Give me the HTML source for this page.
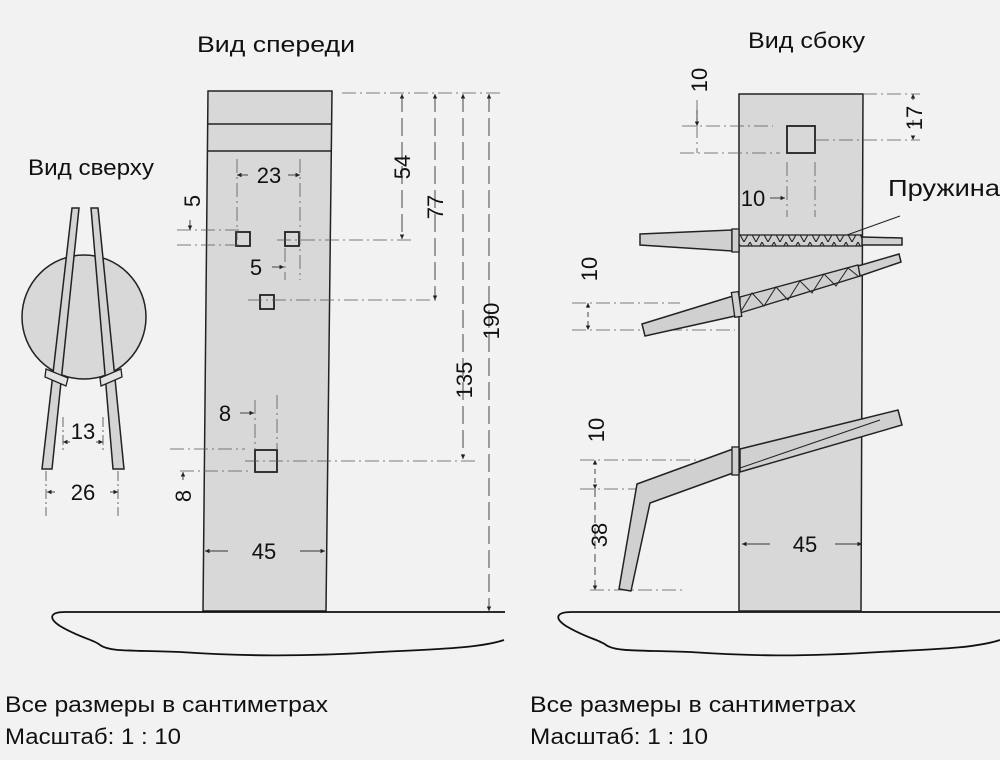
<!DOCTYPE html>
<html><head><meta charset="utf-8"><style>
html,body{margin:0;padding:0;background:#f2f2f2}
svg{display:block}
text{font-family:"Liberation Sans","DejaVu Sans",sans-serif;fill:#111}
</style></head><body>
<svg width="1000" height="760" viewBox="0 0 1000 760" xmlns="http://www.w3.org/2000/svg">
<defs>
<marker id="a" viewBox="0 0 6 6" refX="6" refY="3" markerWidth="5" markerHeight="5" orient="auto-start-reverse"><path d="M0,0 L6,3 L0,6z" fill="#222"/></marker>
<pattern id="sp" width="12" height="11" patternUnits="userSpaceOnUse"><path d="M0,11 L6,0 L12,11" fill="none" stroke="#222" stroke-width="1.1"/></pattern>
</defs>
<rect width="1000" height="760" fill="#f2f2f2"/>

<g font-size="22">
<text x="197" y="52" textLength="158" lengthAdjust="spacingAndGlyphs">Вид спереди</text>
<text x="748" y="48" textLength="117" lengthAdjust="spacingAndGlyphs">Вид сбоку</text>
<text x="28" y="175" textLength="126" lengthAdjust="spacingAndGlyphs">Вид сверху</text>
</g>

<!-- FRONT VIEW post -->
<polygon points="208,91 332,91 326,611 203,611" fill="#d8d8d8" stroke="#222" stroke-width="1.5"/>
<line x1="208" y1="124" x2="332" y2="124" stroke="#222" stroke-width="1.5"/>
<line x1="207" y1="151" x2="331" y2="151" stroke="#222" stroke-width="1.5"/>
<g fill="none" stroke="#222" stroke-width="1.8">
<rect x="236" y="232" width="14" height="14"/>
<rect x="285" y="232" width="14" height="14"/>
<rect x="260" y="295" width="14" height="14"/>
<rect x="255" y="450" width="22" height="22"/>
</g>
<g stroke="#555" stroke-width="0.8" fill="none" stroke-dasharray="14 4 2 4">
<line x1="342" y1="93" x2="500" y2="93"/>
<line x1="277" y1="240" x2="413" y2="240"/>
<line x1="248" y1="300" x2="437" y2="300"/>
<line x1="245" y1="461" x2="475" y2="461"/>
<line x1="237" y1="159" x2="237" y2="240"/>
<line x1="300" y1="159" x2="300" y2="280"/>
<line x1="285" y1="248" x2="285" y2="280"/>
<line x1="177" y1="230" x2="240" y2="230"/>
<line x1="177" y1="245" x2="240" y2="245"/>
<line x1="255" y1="400" x2="255" y2="450"/>
<line x1="277" y1="395" x2="277" y2="450"/>
<line x1="170" y1="449" x2="245" y2="449"/>
<line x1="180" y1="471" x2="248" y2="471"/>
</g>
<g stroke="#333" stroke-width="0.9" fill="none" stroke-dasharray="18 6">
<line x1="402" y1="94" x2="402" y2="239" marker-end="url(#a)" marker-start="url(#a)"/>
<line x1="435" y1="94" x2="435" y2="300" marker-end="url(#a)" marker-start="url(#a)"/>
<line x1="463" y1="94" x2="463" y2="459" marker-end="url(#a)" marker-start="url(#a)"/>
<line x1="489" y1="94" x2="489" y2="611" marker-end="url(#a)" marker-start="url(#a)"/>
</g>
<g stroke="#333" stroke-width="0.9" fill="none">
<line x1="248" y1="175" x2="237" y2="175" marker-end="url(#a)"/>
<line x1="288" y1="175" x2="300" y2="175" marker-end="url(#a)"/>
<line x1="272" y1="267" x2="284" y2="267" marker-end="url(#a)"/>
<line x1="240" y1="413" x2="254" y2="413" marker-end="url(#a)"/>
<line x1="190" y1="220" x2="190" y2="230" marker-end="url(#a)"/>
<line x1="183" y1="480" x2="183" y2="472" marker-end="url(#a)"/>
<line x1="228" y1="551" x2="205" y2="551" marker-end="url(#a)"/>
<line x1="300" y1="551" x2="325" y2="551" marker-end="url(#a)"/>
</g>
<g font-size="22">
<text x="269" y="183" text-anchor="middle">23</text>
<text x="256" y="275" text-anchor="middle">5</text>
<text x="225" y="421" text-anchor="middle">8</text>
<text x="264" y="559" text-anchor="middle">45</text>
<text transform="translate(200,201) rotate(-90)" text-anchor="middle">5</text>
<text transform="translate(191,496) rotate(-90)" text-anchor="middle">8</text>
<text transform="translate(410,167) rotate(-90)" text-anchor="middle">54</text>
<text transform="translate(443,207) rotate(-90)" text-anchor="middle">77</text>
<text transform="translate(472,380) rotate(-90)" text-anchor="middle">135</text>
<text transform="translate(499,321) rotate(-90)" text-anchor="middle">190</text>
</g>

<!-- TOP VIEW -->
<circle cx="84" cy="317" r="62" fill="#d8d8d8" stroke="#222" stroke-width="1.5"/>
<polygon points="72,208 79,208 52,469 42,469" fill="#d4d4d4" stroke="#222" stroke-width="1.5"/>
<polygon points="91,208 98,208 124,469 113,469" fill="#d4d4d4" stroke="#222" stroke-width="1.5"/>
<polygon points="46,369 68,378 66,386 45,377" fill="#e2e2e2" stroke="#222" stroke-width="1.3"/>
<polygon points="100,378 121,369 122,377 101,386" fill="#e2e2e2" stroke="#222" stroke-width="1.3"/>
<g stroke="#444" stroke-width="0.8" fill="none" stroke-dasharray="10 3 2 3">
<line x1="63" y1="417" x2="63" y2="452"/><line x1="103" y1="417" x2="103" y2="452"/>
<line x1="46" y1="471" x2="46" y2="516"/><line x1="118" y1="471" x2="118" y2="516"/>
</g>
<g stroke="#333" stroke-width="0.9">
<line x1="70" y1="442" x2="63" y2="442" marker-end="url(#a)"/>
<line x1="96" y1="442" x2="103" y2="442" marker-end="url(#a)"/>
<line x1="55" y1="492" x2="47" y2="492" marker-end="url(#a)"/>
<line x1="110" y1="492" x2="118" y2="492" marker-end="url(#a)"/>
</g>
<text x="83" y="439" font-size="22" text-anchor="middle">13</text>
<text x="83" y="500" font-size="22" text-anchor="middle">26</text>

<!-- grounds -->
<path d="M505,612 L65,612 C50,612 48,618 60,626 C80,638 95,640 100,645 C110,652 130,650 180,652 C240,656 300,657 380,652 C440,649 480,648 504,640" fill="none" stroke="#111" stroke-width="1.8"/>
<path d="M1000,612 L572,612 C556,612 554,618 566,626 C586,638 600,640 606,645 C616,652 640,650 690,652 C750,656 800,657 880,652 C940,649 975,648 1000,640" fill="none" stroke="#111" stroke-width="1.8"/>

<!-- SIDE VIEW post -->
<polygon points="739,94 863,94 861,611 739,611" fill="#d8d8d8" stroke="#222" stroke-width="1.5"/>
<rect x="787" y="126" width="28" height="27" fill="none" stroke="#222" stroke-width="1.8"/>
<g stroke="#555" stroke-width="0.8" fill="none" stroke-dasharray="14 4 2 4">
<line x1="682" y1="126" x2="773" y2="126"/>
<line x1="680" y1="153" x2="780" y2="153"/>
<line x1="863" y1="94" x2="920" y2="94"/>
<line x1="815" y1="140" x2="920" y2="140"/>
<line x1="787" y1="162" x2="787" y2="217"/>
<line x1="815" y1="162" x2="815" y2="217"/>
<line x1="572" y1="303" x2="680" y2="303"/>
<line x1="572" y1="330" x2="735" y2="330"/>
<line x1="580" y1="460" x2="730" y2="460"/>
<line x1="580" y1="489" x2="640" y2="489"/>
<line x1="590" y1="590" x2="685" y2="590"/>
<line x1="697" y1="100" x2="697" y2="153"/>
</g>
<g stroke="#333" stroke-width="0.9" fill="none">
<line x1="697" y1="110" x2="697" y2="126" marker-end="url(#a)"/>
<line x1="913" y1="94" x2="913" y2="140" marker-end="url(#a)" marker-start="url(#a)" stroke-dasharray="6 20"/>
<line x1="770" y1="198" x2="785" y2="198" marker-end="url(#a)"/>
<line x1="588" y1="303" x2="588" y2="330" marker-end="url(#a)" marker-start="url(#a)" stroke-dasharray="5 4"/>
<line x1="595" y1="460" x2="595" y2="489" marker-end="url(#a)" marker-start="url(#a)" stroke-dasharray="5 4"/>
<line x1="595" y1="489" x2="595" y2="590" marker-end="url(#a)" stroke-dasharray="8 5"/>
<line x1="770" y1="544" x2="742" y2="544" marker-end="url(#a)"/>
<line x1="835" y1="544" x2="862" y2="544" marker-end="url(#a)"/>
</g>
<g font-size="22">
<text transform="translate(707,80) rotate(-90)" text-anchor="middle">10</text>
<text transform="translate(922,118) rotate(-90)" text-anchor="middle">17</text>
<text x="753" y="206" text-anchor="middle">10</text>
<text transform="translate(597,269) rotate(-90)" text-anchor="middle">10</text>
<text transform="translate(604,430) rotate(-90)" text-anchor="middle">10</text>
<text transform="translate(607,535) rotate(-90)" text-anchor="middle">38</text>
<text x="805" y="552" text-anchor="middle">45</text>
</g>
<text x="888" y="196" font-size="23" textLength="112" lengthAdjust="spacingAndGlyphs">Пружина</text>
<line x1="900" y1="216" x2="847" y2="235" stroke="#222" stroke-width="1"/>

<!-- arm 1 -->
<polygon points="640,234 732,230 732,251 640,245" fill="#d0d0d0" stroke="#222" stroke-width="1.5"/>
<polygon points="862,237 902,238 902,245 862,245" fill="#d0d0d0" stroke="#222" stroke-width="1.5"/>
<rect x="739" y="235" width="123" height="11" fill="#cfcfcf" stroke="#222" stroke-width="1.3"/>
<rect x="739" y="235" width="123" height="11" fill="url(#sp)"/>
<rect x="732" y="229" width="7" height="23" fill="#d0d0d0" stroke="#222" stroke-width="1.3"/>

<!-- arm 2 -->
<polygon points="642,324 733,296 735,316 645,336" fill="#d0d0d0" stroke="#222" stroke-width="1.5"/>
<polygon points="858,266 899,254 901,262 860,276" fill="#d0d0d0" stroke="#222" stroke-width="1.5"/>
<polygon points="740,297 858,265 860,276 740,313" fill="#cfcfcf" stroke="#222" stroke-width="1.3"/>
<path d="M740,313 L752,293 L764,306 L776,287 L788,300 L800,281 L812,293 L824,274 L836,286 L848,268 L858,276" fill="none" stroke="#222" stroke-width="1"/>
<rect x="733" y="292" width="7" height="25" fill="#d0d0d0" stroke="#222" stroke-width="1.3" transform="rotate(-8 736 304)"/>

<!-- arm 3 -->
<polygon points="733,449 637,484 619,589 631,591 650,503 733,473" fill="#d0d0d0" stroke="#222" stroke-width="1.5" stroke-linejoin="round"/>
<polygon points="740,449 898,410 902,425 740,472" fill="#d0d0d0" stroke="#222" stroke-width="1.5"/>
<line x1="740" y1="468" x2="880" y2="420" stroke="#222" stroke-width="1"/>
<rect x="732" y="447" width="7" height="28" fill="#d0d0d0" stroke="#222" stroke-width="1.3"/>

<!-- footers -->
<g font-size="22">
<text x="5" y="712" textLength="323" lengthAdjust="spacingAndGlyphs">Все размеры в сантиметрах</text>
<text x="5" y="744" textLength="176" lengthAdjust="spacingAndGlyphs">Масштаб: 1 : 10</text>
<text x="530" y="712" textLength="326" lengthAdjust="spacingAndGlyphs">Все размеры в сантиметрах</text>
<text x="530" y="744" textLength="178" lengthAdjust="spacingAndGlyphs">Масштаб: 1 : 10</text>
</g>
</svg>
</body></html>
